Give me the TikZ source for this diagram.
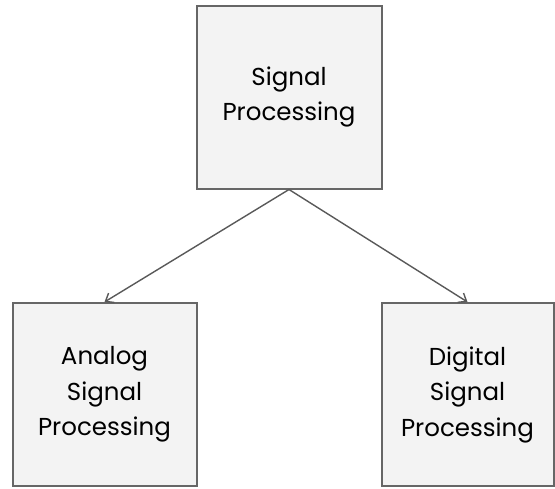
\documentclass[tikz,border=0pt]{standalone}
\usepackage{fontspec}
\setmainfont{Poppins}
\usetikzlibrary{arrows.meta}
\definecolor{boxfill}{HTML}{F3F3F3}
\definecolor{boxline}{HTML}{666666}
\definecolor{linkline}{HTML}{595959}
\begin{document}
\begin{tikzpicture}[x=1pt,y=-1pt,
    block/.style={draw=boxline,fill=boxfill,line width=2pt,minimum height=183pt,
      align=center,inner sep=0pt,font=\fontsize{24.5}{35.5}\selectfont},
    link/.style={draw=linkline,line width=1.4pt,-{Straight Barb[length=7pt,width=11pt]}}]
    \useasboundingbox (0,0) rectangle (555,488);

    \node[block,minimum width=185pt] (SP)  at (289.0, 97.0)  {Signal\\Processing};
    \node[block,minimum width=184pt] (ASP) at (104.5, 394.5) {Analog\\Signal\\Processing};
    \node[block,minimum width=172pt] (DSP) at (467.5, 394.5) {Digital\\Signal\\Processing};

    \draw[link] (SP.south) -- (ASP.north);
    \draw[link] (SP.south) -- (DSP.north);
\end{tikzpicture}
\end{document}
